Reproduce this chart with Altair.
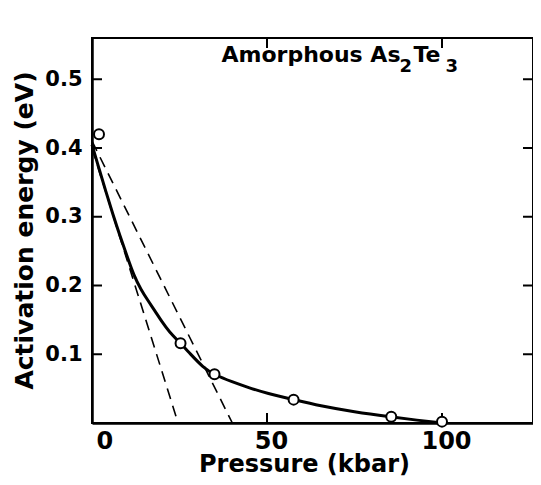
import altair as alt
import pandas as pd

# Data
point_x = [2.0, 25.3, 35.0, 57.6, 85.5, 100.0]
point_y = [0.420, 0.116, 0.071, 0.034, 0.009, 0.002]

curve_x = [0, 2, 4, 6, 8, 10, 12, 14, 16, 18, 20, 22, 25.3, 28, 31.7, 35, 40, 45, 50,
           57.6, 65, 75, 85, 93, 100]
curve_y = [0.405, 0.370, 0.336, 0.303, 0.272, 0.243, 0.214, 0.194, 0.178, 0.163, 0.147,
           0.133, 0.116, 0.101, 0.081, 0.070, 0.060, 0.051, 0.043, 0.034, 0.025, 0.016,
           0.009, 0.004, 0.0]

steep_x = [0, 24.6]
steep_y = [0.40, 0.0]
shallow_x = [0, 40.1]
shallow_y = [0.41, 0.0]

x_ticks = [50, 100]
y_ticks = [0.1, 0.2, 0.3, 0.4, 0.5]
x_labels = [0, 50, 100]

title_parts = ["Amorphous As", "2", "Te", "3"]
title_x = [37.0]
title_y = [0.525]

W, H = 441, 385
FONT = "DejaVu Sans"

xs = alt.Scale(domain=[0, 126], nice=False, zero=False)
ys = alt.Scale(domain=[0, 0.56], nice=False, zero=False)

pts = pd.DataFrame({"p": point_x, "e": point_y})
curve = pd.DataFrame({"p": curve_x, "e": curve_y})
dash = pd.DataFrame({
    "p": steep_x + shallow_x,
    "e": steep_y + shallow_y,
    "line": ["steep"] * 2 + ["shallow"] * 2,
})
xt = pd.DataFrame({"p": x_ticks})
yt = pd.DataFrame({"e": y_ticks})

x_enc = alt.X("p:Q", scale=xs, axis=alt.Axis(
    values=x_labels, title="Pressure   (kbar)", grid=False, ticks=False, tickSize=0,
    domain=True, domainColor="black", domainWidth=2.5,
    labelFont=FONT, labelFontSize=24, labelFontWeight="bold", labelColor="black",
    labelPadding=6, labelOffset=4,
    titleFont=FONT, titleFontSize=24, titleFontWeight="bold", titleColor="black",
    titleX=212, titleY=48, titleBaseline="alphabetic"))
y_enc = alt.Y("e:Q", scale=ys, axis=alt.Axis(
    values=y_ticks, title="Activation  energy   (eV)", grid=False, ticks=False, tickSize=0,
    domain=True, domainColor="black", domainWidth=2.5,
    labelFont=FONT, labelFontSize=21, labelFontWeight="bold", labelColor="black",
    labelPadding=10, format=".1f",
    titleFont=FONT, titleFontSize=25, titleFontWeight="bold", titleColor="black",
    titleX=-60, titleY=192, titleBaseline="alphabetic", titleAngle=270))

base_curve = alt.Chart(curve).mark_line(
    color="black", strokeWidth=3, interpolate="basis"
).encode(x=x_enc, y=y_enc)

dashed = alt.Chart(dash).mark_line(
    color="black", strokeWidth=1.6, strokeDash=[11, 7]
).encode(x=alt.X("p:Q", scale=xs), y=alt.Y("e:Q", scale=ys), detail="line:N")

circles = alt.Chart(pts).mark_point(
    shape="circle", size=100, filled=True, fill="white", stroke="black", strokeWidth=2, opacity=1
).encode(x=alt.X("p:Q", scale=xs), y=alt.Y("e:Q", scale=ys))

bottom_ticks = alt.Chart(xt).mark_rule(color="black", strokeWidth=2).encode(
    x=alt.X("p:Q", scale=xs), y=alt.value(H), y2=alt.value(H - 10))
top_ticks = alt.Chart(xt).mark_rule(color="black", strokeWidth=2).encode(
    x=alt.X("p:Q", scale=xs), y=alt.value(0), y2=alt.value(10))
left_ticks = alt.Chart(yt).mark_rule(color="black", strokeWidth=2).encode(
    y=alt.Y("e:Q", scale=ys), x=alt.value(0), x2=alt.value(10))
right_ticks = alt.Chart(yt).mark_rule(color="black", strokeWidth=2).encode(
    y=alt.Y("e:Q", scale=ys), x=alt.value(W), x2=alt.value(W - 10))


def title_piece(text, size, dx, dy):
    df = pd.DataFrame({"p": title_x, "e": title_y, "t": [text]})
    return alt.Chart(df).mark_text(
        font=FONT, fontSize=size, fontWeight="bold", color="black",
        align="left", baseline="alphabetic", dx=dx, dy=dy
    ).encode(x=alt.X("p:Q", scale=xs), y=alt.Y("e:Q", scale=ys), text="t:N")


title_marks = [
    title_piece(title_parts[0], 22, 0, 0),
    title_piece(title_parts[1], 18, 178, 10),
    title_piece(title_parts[2], 22, 192, 0),
    title_piece(title_parts[3], 18, 224, 10),
]

chart = alt.layer(
    base_curve, dashed, bottom_ticks, top_ticks, left_ticks, right_ticks, circles, *title_marks
).properties(
    width=W, height=H,
    autosize=alt.AutoSizeParams(type="none"),
    padding={"left": 84, "top": 30, "right": 0, "bottom": 54},
    background="white",
).configure_view(stroke="black", strokeWidth=2)

chart.save("out.html", embed_options={"renderer": "svg", "actions": False})
